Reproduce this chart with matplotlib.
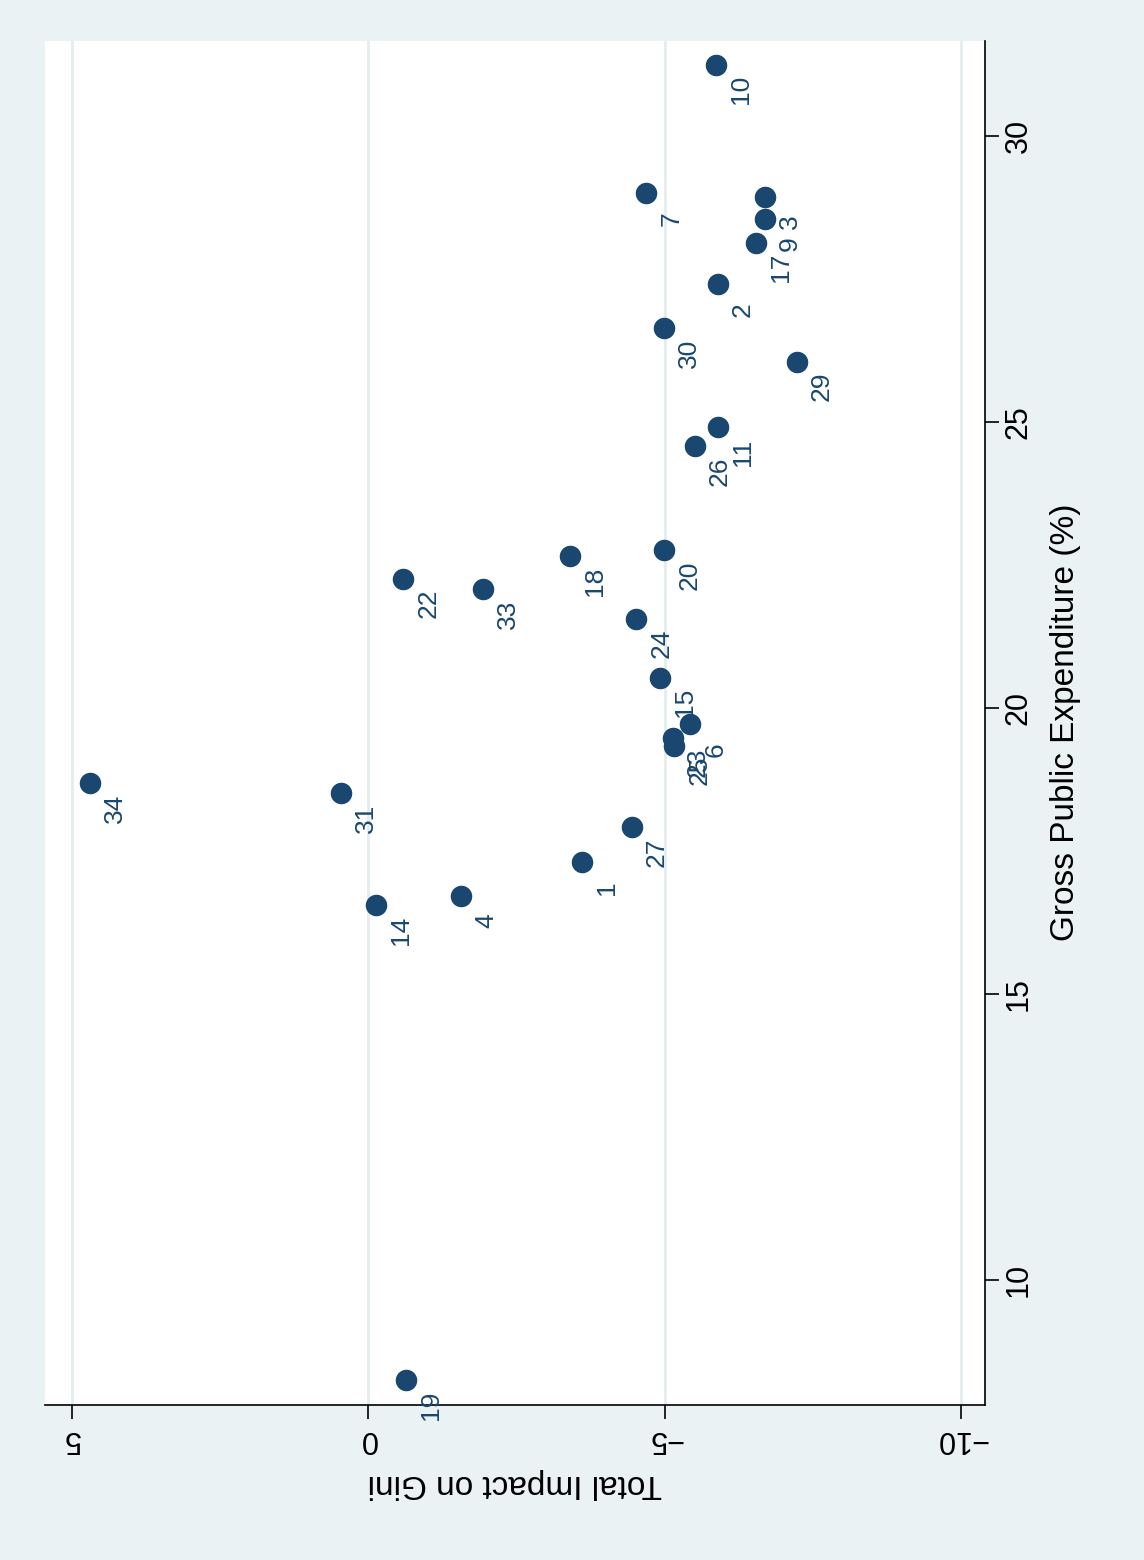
import matplotlib.pyplot as plt

plt.rcParams['font.family'] = ['Liberation Sans', 'DejaVu Sans']

# Stata-style scatter, shown rotated 90 degrees
ids = [34, 31, 14, 4, 1, 27, 19, 23, 25, 6, 15, 24, 22, 33, 18, 20,
       26, 11, 29, 30, 2, 17, 9, 3, 7, 10]
gini = [4.69, 0.46, -0.13, -1.57, -3.61, -4.45, -0.64, -5.14, -5.16, -5.43,
        -4.92, -4.52, -0.59, -1.94, -3.41, -4.99, -5.51, -5.90, -7.23, -4.99,
        -5.90, -6.54, -6.69, -6.69, -4.69, -5.87]
expend = [18.68, 18.51, 16.55, 16.72, 17.30, 17.91, 8.25, 19.48, 19.34, 19.71,
          20.53, 21.56, 22.26, 22.07, 22.65, 22.75, 24.57, 24.90, 26.05, 26.63,
          27.40, 28.13, 28.55, 28.93, 28.99, 31.24]
gini_ticks = [5, 0, -5, -10]
exp_ticks = [10, 15, 20, 25, 30]

navy = "#1a476f"
fig = plt.figure(figsize=(11.44, 15.6), dpi=100, facecolor="#eaf2f3")
ax = fig.add_axes([0.0393, 0.0994, 0.8217, 0.8746])
ax.set_facecolor("white")

for g in gini_ticks:
    ax.axvline(g, color="#e3ecee", lw=2, zorder=0)

ax.scatter(gini, expend, s=210, color=navy, zorder=3)
for i, g, e in zip(ids, gini, expend):
    ax.annotate(str(i), (g, e), xytext=(18, -18), textcoords="offset points",
                rotation=90, ha="center", va="center", fontsize=19, color=navy)

ax.set_xlim(5.45, -10.40)
ax.set_ylim(7.82, 31.66)
ax.set_xticks(gini_ticks)
ax.set_xticklabels(["5", "0", "\u22125", "\u221210"], rotation=180, fontsize=22)
ax.set_yticks(exp_ticks)
ax.yaxis.tick_right()
ax.yaxis.set_label_position("right")
ax.set_yticklabels([str(t) for t in exp_ticks], rotation=90, va="center", fontsize=22)
ax.tick_params(length=10, width=1.2)

for s in ["top", "left"]:
    ax.spines[s].set_visible(False)
ax.spines["bottom"].set_linewidth(1.2)
ax.spines["right"].set_linewidth(1.2)

ax.set_ylabel("Gross Public Expenditure (%)", fontsize=24, rotation=90, labelpad=12)
ax.set_xlabel("Total Impact on Gini", fontsize=24, rotation=180, labelpad=10)

fig.savefig("out.png", dpi=100, facecolor=fig.get_facecolor())
